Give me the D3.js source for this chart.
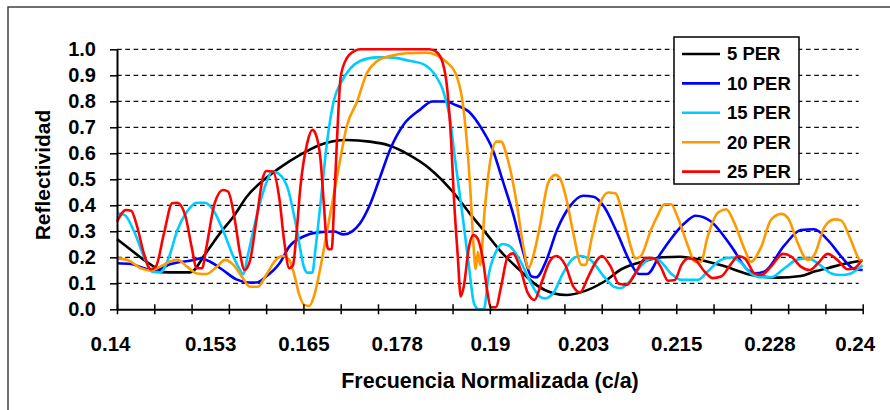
<!DOCTYPE html>
<html>
<head>
<meta charset="utf-8">
<script src="https://cdn.jsdelivr.net/npm/d3@7/dist/d3.min.js"></script>
<style>
  html, body { margin: 0; padding: 0; background: #fff; }
  svg { display: block; font-family: "Liberation Sans", Arial, sans-serif; font-weight: bold; }
</style>
</head>
<body>
<svg id="chart" width="890" height="410"></svg>
<script>
// Reflectivity vs normalized frequency for 5..25 periods: [frequency, reflectivity]
const per5 = [[0.140,0.27],[0.1418,0.23],[0.1436,0.19],[0.145,0.163],[0.146,0.143],[0.148,0.142],[0.1498,0.142],[0.152,0.22],[0.1538,0.292],[0.1557,0.36],[0.1574,0.433],[0.160,0.505],[0.162,0.548],[0.1645,0.593],[0.1672,0.632],[0.1708,0.651],[0.1739,0.645],[0.1765,0.63],[0.1788,0.60],[0.1819,0.542],[0.185,0.453],[0.1873,0.369],[0.1895,0.292],[0.1917,0.215],[0.194,0.151],[0.1962,0.094],[0.1985,0.062],[0.2003,0.055],[0.2025,0.068],[0.2053,0.106],[0.2077,0.155],[0.2107,0.185],[0.2132,0.20],[0.2155,0.202],[0.2183,0.19],[0.2212,0.168],[0.2249,0.133],[0.2286,0.122],[0.2317,0.128],[0.2335,0.145],[0.2355,0.16],[0.2379,0.177],[0.240,0.188]];

const per10 = [[0.140,0.177],[0.1419,0.174],[0.1436,0.158],[0.145,0.149],[0.1472,0.174],[0.1503,0.19],[0.1512,0.196],[0.1525,0.183],[0.1542,0.151],[0.156,0.115],[0.1578,0.103],[0.1587,0.103],[0.160,0.126],[0.1618,0.177],[0.1631,0.241],[0.165,0.28],[0.1669,0.296],[0.1691,0.299],[0.1704,0.288],[0.1715,0.299],[0.1726,0.331],[0.174,0.408],[0.1753,0.51],[0.1766,0.613],[0.1784,0.709],[0.1806,0.767],[0.1823,0.799],[0.1841,0.799],[0.1854,0.786],[0.1872,0.76],[0.189,0.69],[0.1904,0.613],[0.1917,0.497],[0.1931,0.369],[0.1944,0.228],[0.1956,0.126],[0.1962,0.123],[0.1976,0.19],[0.199,0.305],[0.2007,0.395],[0.2025,0.437],[0.2039,0.433],[0.2053,0.395],[0.2071,0.292],[0.2089,0.177],[0.2100,0.136],[0.2111,0.136],[0.2129,0.215],[0.2161,0.331],[0.2176,0.36],[0.2197,0.337],[0.2224,0.241],[0.2246,0.151],[0.2255,0.138],[0.2268,0.145],[0.2295,0.246],[0.2317,0.305],[0.2335,0.308],[0.2353,0.267],[0.2375,0.19],[0.2389,0.154],[0.240,0.151]];

const per15 = [[0.140,0.369],[0.141,0.363],[0.1423,0.299],[0.1436,0.203],[0.1447,0.145],[0.1458,0.142],[0.147,0.203],[0.1481,0.305],[0.1494,0.376],[0.1507,0.41],[0.1518,0.41],[0.1529,0.382],[0.1542,0.305],[0.1556,0.203],[0.1565,0.151],[0.1569,0.135],[0.1576,0.215],[0.1587,0.356],[0.160,0.485],[0.1608,0.53],[0.1616,0.523],[0.1629,0.465],[0.1641,0.31],[0.1651,0.16],[0.1655,0.141],[0.1662,0.141],[0.1666,0.228],[0.1673,0.41],[0.1682,0.65],[0.1691,0.805],[0.170,0.87],[0.1713,0.927],[0.1726,0.955],[0.1748,0.969],[0.1766,0.969],[0.1792,0.956],[0.181,0.944],[0.1828,0.895],[0.1837,0.844],[0.1846,0.741],[0.1854,0.562],[0.1863,0.369],[0.1872,0.164],[0.1879,0.02],[0.1885,0.0],[0.1892,0.0],[0.1898,0.125],[0.1908,0.22],[0.1917,0.251],[0.1926,0.244],[0.194,0.19],[0.1953,0.113],[0.1967,0.049],[0.1974,0.042],[0.1985,0.062],[0.1998,0.138],[0.2012,0.196],[0.2021,0.205],[0.2035,0.19],[0.2053,0.126],[0.2066,0.087],[0.2075,0.081],[0.2089,0.113],[0.2102,0.164],[0.2116,0.195],[0.2126,0.19],[0.2143,0.138],[0.2157,0.113],[0.2179,0.113],[0.2192,0.145],[0.221,0.19],[0.2224,0.199],[0.2237,0.179],[0.225,0.138],[0.2264,0.123],[0.2277,0.123],[0.2295,0.158],[0.2313,0.192],[0.2326,0.196],[0.234,0.177],[0.2358,0.138],[0.2371,0.132],[0.2384,0.138],[0.240,0.17]];

const per20 = [[0.140,0.196],[0.1414,0.19],[0.1432,0.158],[0.1445,0.149],[0.1458,0.164],[0.1474,0.187],[0.1481,0.19],[0.1494,0.164],[0.1507,0.138],[0.152,0.136],[0.1534,0.164],[0.1545,0.19],[0.1556,0.171],[0.1569,0.119],[0.1578,0.087],[0.1589,0.087],[0.160,0.132],[0.1613,0.19],[0.1622,0.205],[0.1631,0.19],[0.1638,0.13],[0.1644,0.06],[0.1651,0.017],[0.1658,0.013],[0.1664,0.049],[0.1673,0.164],[0.1682,0.305],[0.1691,0.446],[0.170,0.587],[0.1708,0.703],[0.1722,0.799],[0.1735,0.908],[0.1748,0.953],[0.1766,0.974],[0.1788,0.985],[0.1815,0.987],[0.1828,0.978],[0.1841,0.953],[0.1854,0.908],[0.1863,0.805],[0.1869,0.65],[0.1874,0.45],[0.1878,0.25],[0.1881,0.155],[0.1884,0.22],[0.1887,0.17],[0.1893,0.38],[0.190,0.56],[0.1909,0.645],[0.1915,0.645],[0.1923,0.587],[0.1936,0.408],[0.1945,0.24],[0.1952,0.158],[0.1958,0.203],[0.1967,0.318],[0.1978,0.485],[0.1988,0.517],[0.1994,0.504],[0.2003,0.42],[0.2012,0.292],[0.2023,0.171],[0.2028,0.171],[0.2037,0.279],[0.2048,0.408],[0.2059,0.449],[0.2068,0.446],[0.208,0.344],[0.2089,0.241],[0.2095,0.196],[0.2102,0.203],[0.2116,0.305],[0.2125,0.36],[0.2134,0.404],[0.2143,0.404],[0.2152,0.353],[0.2166,0.241],[0.2175,0.183],[0.2183,0.183],[0.2192,0.279],[0.2206,0.372],[0.2217,0.385],[0.2228,0.331],[0.2242,0.228],[0.225,0.183],[0.2264,0.241],[0.2277,0.344],[0.2291,0.367],[0.230,0.35],[0.2313,0.254],[0.2326,0.19],[0.2335,0.209],[0.2349,0.318],[0.2362,0.346],[0.2371,0.342],[0.2384,0.267],[0.2396,0.19],[0.240,0.185]];

const per25 = [[0.140,0.337],[0.1412,0.382],[0.1419,0.379],[0.1427,0.318],[0.1436,0.215],[0.1445,0.154],[0.1452,0.164],[0.1463,0.292],[0.1474,0.408],[0.1481,0.41],[0.1492,0.356],[0.150,0.241],[0.1507,0.158],[0.1514,0.158],[0.152,0.241],[0.1531,0.408],[0.1542,0.459],[0.1549,0.453],[0.1558,0.344],[0.1565,0.215],[0.1571,0.151],[0.1578,0.183],[0.1587,0.344],[0.1596,0.51],[0.160,0.532],[0.1609,0.53],[0.1618,0.42],[0.1624,0.267],[0.1631,0.158],[0.1636,0.17],[0.164,0.267],[0.1646,0.472],[0.1655,0.638],[0.1662,0.69],[0.1666,0.677],[0.1673,0.574],[0.1677,0.42],[0.1682,0.241],[0.1684,0.231],[0.1688,0.231],[0.1691,0.395],[0.1695,0.651],[0.170,0.895],[0.1708,0.965],[0.1717,0.991],[0.1726,1.0],[0.1819,1.0],[0.1828,0.991],[0.1837,0.946],[0.1843,0.844],[0.1848,0.651],[0.1852,0.42],[0.1857,0.203],[0.1861,0.049],[0.1865,0.087],[0.1872,0.241],[0.1878,0.286],[0.1883,0.275],[0.189,0.203],[0.1897,0.062],[0.1901,0.008],[0.1908,0.008],[0.1915,0.087],[0.1924,0.203],[0.1931,0.215],[0.194,0.164],[0.1951,0.062],[0.196,0.036],[0.1969,0.1],[0.198,0.183],[0.1989,0.205],[0.2001,0.171],[0.2012,0.087],[0.2021,0.065],[0.2032,0.126],[0.2044,0.19],[0.205,0.205],[0.2062,0.164],[0.2073,0.098],[0.2084,0.094],[0.2095,0.138],[0.2109,0.198],[0.212,0.196],[0.2129,0.164],[0.2139,0.11],[0.2148,0.113],[0.2157,0.171],[0.2166,0.196],[0.2175,0.19],[0.2188,0.145],[0.2199,0.12],[0.221,0.126],[0.2224,0.177],[0.2233,0.205],[0.2242,0.196],[0.2255,0.138],[0.2264,0.132],[0.2277,0.164],[0.2293,0.213],[0.2304,0.203],[0.2317,0.164],[0.2329,0.151],[0.234,0.177],[0.2353,0.213],[0.2366,0.19],[0.238,0.154],[0.2389,0.158],[0.2398,0.187]];

const seriesNames = ["5 PER", "10 PER", "15 PER", "20 PER", "25 PER"];
const seriesColors = ["#000000", "#0000ff", "#00ccff", "#ff9900", "#ff0000"];
const seriesData = [per5, per10, per15, per20, per25];

// Axis ticks and labels
const yTicks = [0, 0.1, 0.2, 0.3, 0.4, 0.5, 0.6, 0.7, 0.8, 0.9, 1.0];
const xTickMarks = [0.14,0.145,0.15,0.155,0.16,0.165,0.17,0.175,0.18,0.185,0.19,0.195,0.2,0.205,0.21,0.215,0.22,0.225,0.23,0.235,0.24];
const xLabelValues = [0.14, 0.1525, 0.165, 0.1775, 0.19, 0.2025, 0.215, 0.2275, 0.24];
const xLabelText = ["0.14", "0.153", "0.165", "0.178", "0.19", "0.203", "0.215", "0.228", "0.24"];

const svg = d3.select("#chart");
const plot = { left: 117, right: 862.7, top: 49.3, bottom: 309.3 };
const fontFamily = "'Liberation Sans', Arial, sans-serif";

const x = d3.scaleLinear().domain([0.14, 0.24]).range([plot.left, plot.right]);
const y = d3.scaleLinear().domain([0, 1]).range([plot.bottom, plot.top]);

// outer chart frame
svg.append("rect")
  .attr("x", 8).attr("y", 7).attr("width", 900).attr("height", 420)
  .attr("fill", "#fff").attr("stroke", "#404040").attr("stroke-width", 1.5);

// dashed horizontal gridlines
svg.append("g").selectAll("line")
  .data(yTicks.filter(v => v > 0))
  .join("line")
  .attr("x1", plot.left).attr("x2", plot.right - 4)
  .attr("y1", d => y(d)).attr("y2", d => y(d))
  .attr("stroke", "#111").attr("stroke-width", 1.3)
  .attr("stroke-dasharray", "4.7,3.6");

// series lines
const line = d3.line()
  .x(d => x(d[0]))
  .y(d => y(d[1]))
  .curve(d3.curveMonotoneX);

svg.append("g").selectAll("path")
  .data(seriesData)
  .join("path")
  .attr("d", d => line(d))
  .attr("fill", "none")
  .attr("stroke", (d, i) => seriesColors[i])
  .attr("stroke-width", 2.6)
  .attr("stroke-linejoin", "round");

// y axis
const yAxis = svg.append("g")
  .attr("transform", `translate(${plot.left},0)`)
  .call(d3.axisLeft(y).tickValues(yTicks).tickFormat(d3.format(".1f"))
    .tickSizeInner(7).tickSizeOuter(0).tickPadding(14));
yAxis.select(".domain").attr("stroke", "#000").attr("stroke-width", 2);
yAxis.selectAll(".tick line").attr("stroke", "#000").attr("stroke-width", 1.5);
yAxis.selectAll(".tick text")
  .attr("font-size", 20).attr("font-weight", "bold")
  .attr("font-family", fontFamily).attr("fill", "#000");

// x axis tick marks (crossing the axis line)
const xAxis = svg.append("g")
  .attr("transform", `translate(0,${plot.bottom})`)
  .call(d3.axisBottom(x).tickValues(xTickMarks).tickFormat("").tickSizeOuter(0).tickSizeInner(5));
xAxis.select(".domain").attr("stroke", "#000").attr("stroke-width", 2);
xAxis.selectAll(".tick line").attr("y1", -5).attr("y2", 5).attr("stroke", "#000").attr("stroke-width", 1.5);

// x axis labels; the end labels are pulled slightly inward
const lastLabel = xLabelValues.length - 1;
const xLab = svg.append("g")
  .attr("transform", `translate(0,${plot.bottom})`)
  .call(d3.axisBottom(x).tickValues(xLabelValues)
    .tickFormat((d, i) => xLabelText[i]).tickSize(0).tickPadding(27));
xLab.select(".domain").remove();
xLab.selectAll(".tick text")
  .attr("font-size", 20.5).attr("font-weight", "bold")
  .attr("font-family", fontFamily).attr("fill", "#000")
  .attr("dx", (d, i) => i === 0 ? -7 : (i === lastLabel ? -8 : 0));

// axis titles
svg.append("text")
  .attr("transform", "translate(43,175) rotate(-90)")
  .attr("text-anchor", "middle").attr("dy", "0.35em")
  .attr("font-size", 21).attr("fill", "#000")
  .text("Reflectividad");

svg.append("text")
  .attr("x", 490).attr("y", 388)
  .attr("text-anchor", "middle")
  .attr("font-size", 21.5).attr("fill", "#000")
  .text("Frecuencia Normalizada (c/a)");

// legend
const legend = svg.append("g");
legend.append("rect")
  .attr("x", 674).attr("y", 37).attr("width", 125).attr("height", 147)
  .attr("fill", "#fff").attr("stroke", "#000").attr("stroke-width", 1.5);
const items = legend.selectAll("g.item")
  .data(seriesNames)
  .join("g").attr("class", "item")
  .attr("transform", (d, i) => `translate(0,${54 + i * 29.4})`);
items.append("line")
  .attr("x1", 682).attr("x2", 720)
  .attr("stroke", (d, i) => seriesColors[i]).attr("stroke-width", 2.6);
items.append("text")
  .attr("x", 727).attr("dy", "0.35em")
  .attr("font-size", 18.5).attr("fill", "#000")
  .text(d => d);
</script>
</body>
</html>
